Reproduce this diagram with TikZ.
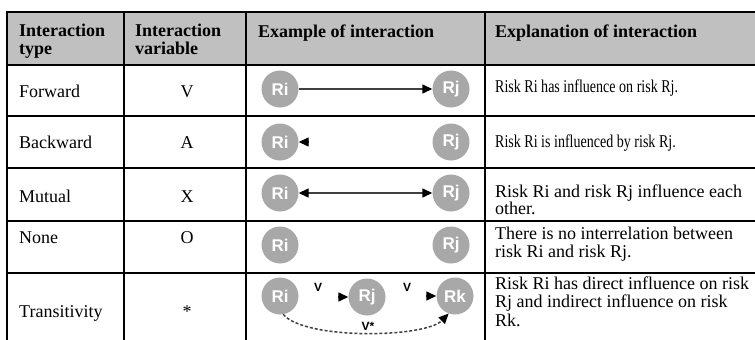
\documentclass[tikz,border=0pt]{standalone}
\usepackage{fontspec}
\setmainfont{Liberation Serif}
\newfontfamily\riskfont{Liberation Sans}
\newfontfamily\narrowserif[FakeStretch=0.78]{Liberation Serif}
\usetikzlibrary{arrows.meta,calc}
\definecolor{headgray}{RGB}{192,192,192}
\definecolor{riskgray}{RGB}{168,168,168}
\definecolor{linkgray}{RGB}{64,64,64}
\begin{document}
\begin{tikzpicture}[x=1pt,y=-1pt,
  >={Triangle[length=10pt,width=9pt,color=black]},
  hd/.style={anchor=base west,inner sep=0pt,font=\bfseries\fontsize{18}{18}\selectfont},
  tx/.style={anchor=base west,inner sep=0pt,font=\fontsize{18}{18}\selectfont},
  txn/.style={anchor=base west,inner sep=0pt,font=\narrowserif\fontsize{18}{18}\selectfont},
  tc/.style={anchor=base,inner sep=0pt,font=\fontsize{18}{18}\selectfont},
  risk/.style={circle,fill=riskgray,minimum size=37pt,inner sep=0pt,text=white,
    font=\riskfont\bfseries\fontsize{17}{17}\selectfont},
  link/.style={draw=linkgray,line width=1.4pt},
  lbl/.style={inner sep=0pt,font=\riskfont\bfseries\fontsize{12}{12}\selectfont},
  rule/.style={line width=1.2pt},
  heavyrule/.style={line width=2pt}]
\useasboundingbox (0,0) rectangle (755,340);

% header band
\fill[headgray] (7,12) rectangle (755,65);

% table rules
\draw[heavyrule] (6,12) -- (755,12);
\draw[rule] (7,65) -- (755,65);
\draw[rule] (7,116) -- (755,116);
\draw[rule] (7,168) -- (755,168);
\draw[heavyrule] (7,221) -- (755,221);
\draw[rule] (7,273) -- (755,273);
\draw[line width=1.5pt] (7,11) -- (7,340);
\draw[rule] (124,12) -- (124,340);
\draw[rule] (246,12) -- (246,340);
\draw[rule] (485,12) -- (485,340);

% header texts
\node[hd] (h1a) at (19,36.5) {Interaction};
\node[hd] (h1b) at (19,54) {type};
\node[hd] (h2a) at (135,36.5) {Interaction};
\node[hd] (h2b) at (135,54) {variable};
\node[hd] (h3) at (258,37) {Example of interaction};
\node[hd] (h4) at (495,37) {Explanation of interaction};

% forward
\node[tx] (t1) at (19,97.5) {Forward};
\node[tc] (v1) at (187,97.5) {V};
\node[txn] (e1) at (495,92) {Risk Ri has influence on risk Rj.};
\node[risk] (ri1) at (280,89) {Ri};
\node[risk] (rj1) at (451,89) {Rj};
\draw[link,->] (ri1) -- (rj1);

% backward
\node[tx] (t2) at (19,148) {Backward};
\node[tc] (v2) at (187,148) {A};
\node[txn] (e2) at (495,147) {Risk Ri is influenced by risk Rj.};
\node[risk] (ri2) at (280,142) {Ri};
\node[risk] (rj2) at (451,142) {Rj};
\coordinate (b2) at ($(ri2.east)+(10,0)$);
\draw[link,->] (b2) -- (ri2);

% mutual
\node[tx] (t3) at (19,202.5) {Mutual};
\node[tc] (v3) at (187,202.5) {X};
\node[tx] (e3a) at (495,197) {Risk Ri and risk Rj influence each};
\node[tx] (e3b) at (495,214) {other.};
\node[risk] (ri3) at (280,193) {Ri};
\node[risk] (rj3) at (451,193) {Rj};
\draw[link,<->] (ri3) -- (rj3);

% none
\node[tx] (t4) at (19,243) {None};
\node[tc] (v4) at (187,243) {O};
\node[tx] (e4a) at (495,239) {There is no interrelation between};
\node[tx] (e4b) at (495,257) {risk Ri and risk Rj.};
\node[risk] (ri4) at (280,245) {Ri};
\node[risk] (rj4) at (451,245) {Rj};

% transitivity
\node[tx] (t5) at (19,317) {Transitivity};
\node[tc] (v5) at (187,317) {*};
\node[tx] (e5a) at (495,289) {Risk Ri has direct influence on risk};
\node[tx] (e5b) at (495,307) {Rj and indirect influence on risk};
\node[tx] (e5c) at (495,326) {Rk.};
\node[risk] (ri5) at (280,296) {Ri};
\node[risk] (rj5) at (367,297) {Rj};
\node[risk] (rk5) at (455,296) {Rk};
\coordinate (a5) at ($(rj5.west)+(-10,0)$);
\coordinate (b5) at ($(rk5.west)+(-10,0)$);
\draw[link,->] (a5) -- (rj5);
\draw[link,->] (b5) -- (rk5);
\node[lbl] (va) at (318,287) {V};
\node[lbl] (vb) at (407,287) {V};
\draw[link,line width=1.5pt,dash pattern=on 3pt off 2pt,->]
  (ri5.-80) .. controls (305,340) and (425,338) .. (rk5.-110);
\node[lbl] (vs) at (368,326) {V*};
\end{tikzpicture}
\end{document}
